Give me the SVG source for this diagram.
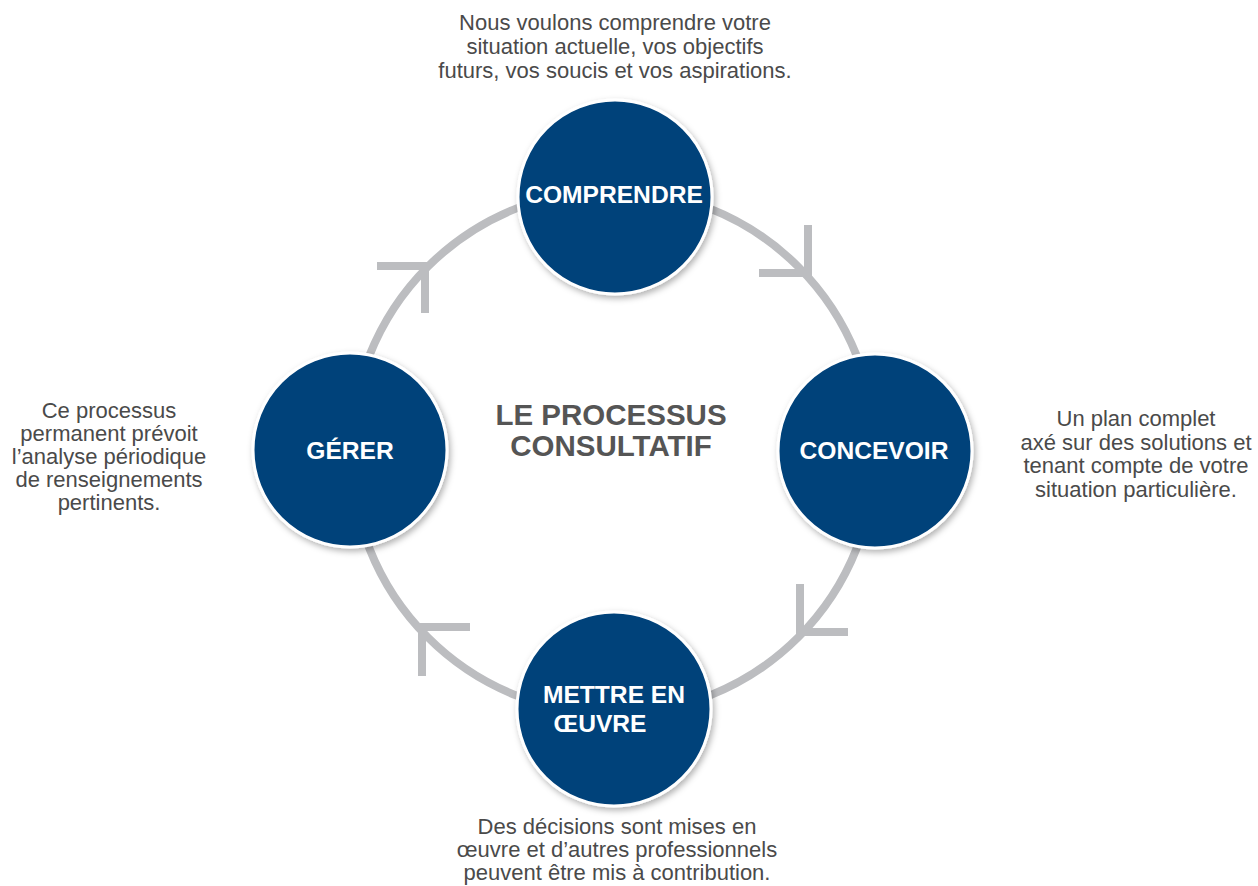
<svg xmlns="http://www.w3.org/2000/svg" width="1258" height="886" viewBox="0 0 1258 886">
<defs>
<filter id="sh" x="-20%" y="-20%" width="140%" height="140%">
<feDropShadow dx="2" dy="3" stdDeviation="3" flood-color="#000" flood-opacity="0.3"/>
</filter>
</defs>
<style>
.ring{fill:none;stroke:#bcbdc0;stroke-width:8}
.chev{fill:none;stroke:#bcbdc0;stroke-width:8;stroke-linejoin:miter;stroke-linecap:butt}
.node{fill:#02427a;stroke:#ffffff;stroke-width:3;filter:url(#sh)}
.lbl{font-family:"Liberation Sans",Arial,sans-serif;font-weight:bold;font-size:24.6px;fill:#ffffff;text-anchor:middle}
.title{font-family:"Liberation Sans",Arial,sans-serif;font-weight:bold;font-size:29.5px;fill:#555555;text-anchor:middle}
.desc{font-family:"Liberation Sans",Arial,sans-serif;font-size:22px;fill:#4a4a4a;text-anchor:middle}
</style>
<rect width="1258" height="886" fill="#ffffff"/>
<g id="connectors">
<circle class="ring" cx="613" cy="452" r="262"/>
<polyline class="chev" points="808,225 808,273 759,273"/>
<polyline class="chev" points="800,584 800,632 848,632"/>
<polyline class="chev" points="470,627 422,627 422,676"/>
<polyline class="chev" points="377,266 425,266 425,313"/>
</g>
<g id="title">
<text class="title" x="611" y="425">LE PROCESSUS</text>
<text class="title" x="611" y="456">CONSULTATIF</text>
</g>
<g id="node-comprendre">
<circle class="node" cx="615" cy="197" r="97"/>
<text class="lbl" x="614" y="203">COMPRENDRE</text>
</g>
<g id="node-concevoir">
<circle class="node" cx="875" cy="451" r="97"/>
<text class="lbl" x="874" y="459">CONCEVOIR</text>
</g>
<g id="node-mettre">
<circle class="node" cx="614" cy="709" r="97"/>
<text class="lbl" x="614" y="703">METTRE EN</text>
<text class="lbl" x="600" y="732">ŒUVRE</text>
</g>
<g id="node-gerer">
<circle class="node" cx="350" cy="450" r="97"/>
<text class="lbl" x="350" y="459">GÉRER</text>
</g>
<g id="desc-top">
<text class="desc" x="615" y="30">Nous voulons comprendre votre</text>
<text class="desc" x="615" y="54">situation actuelle, vos objectifs</text>
<text class="desc" x="615" y="78">futurs, vos soucis et vos aspirations.</text>
</g>
<g id="desc-left">
<text class="desc" x="109" y="418">Ce processus</text>
<text class="desc" x="109" y="441">permanent prévoit</text>
<text class="desc" x="109" y="464">l’analyse périodique</text>
<text class="desc" x="109" y="487">de renseignements</text>
<text class="desc" x="109" y="510">pertinents.</text>
</g>
<g id="desc-right">
<text class="desc" x="1136" y="426">Un plan complet</text>
<text class="desc" x="1136" y="450">axé sur des solutions et</text>
<text class="desc" x="1136" y="473">tenant compte de votre</text>
<text class="desc" x="1136" y="497">situation particulière.</text>
</g>
<g id="desc-bottom">
<text class="desc" x="617" y="834">Des décisions sont mises en</text>
<text class="desc" x="617" y="857">œuvre et d’autres professionnels</text>
<text class="desc" x="617" y="880">peuvent être mis à contribution.</text>
</g>
</svg>
